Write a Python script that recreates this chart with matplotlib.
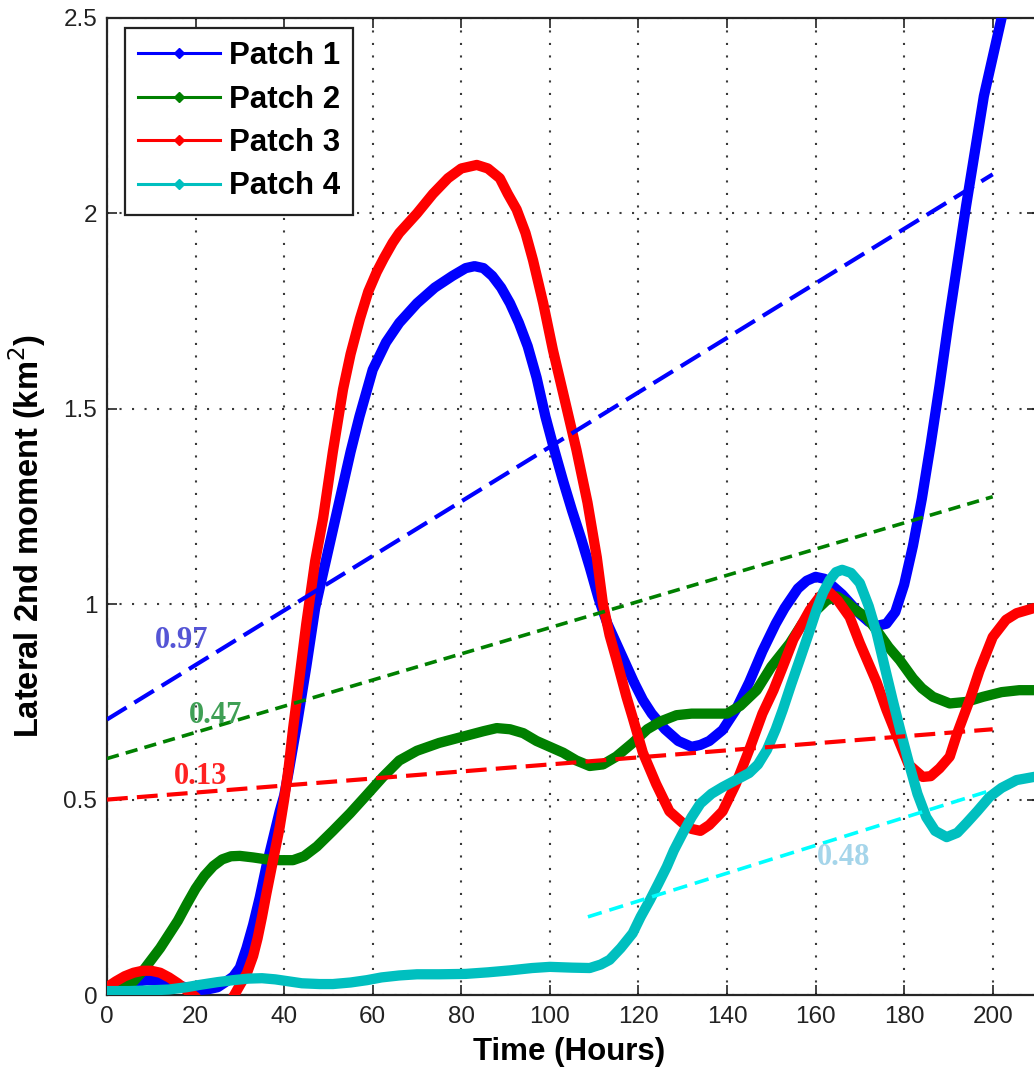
import matplotlib
matplotlib.use("Agg")
import matplotlib.pyplot as plt
from matplotlib.lines import Line2D

plt.rcParams['font.family'] = ['Liberation Sans', 'DejaVu Sans']

# ---- Patch 1 ----
p1_t = [0, 3, 6, 9, 11, 14, 17, 20, 23, 25, 27, 28.5, 30, 31.5, 33, 34.5, 36, 37.5, 39,
        40, 41, 43, 45, 47, 49, 51, 53, 55, 57, 60, 63, 66, 70, 74, 78, 81, 83, 85, 87,
        89, 91, 93, 95, 97, 99, 101, 103, 105, 107, 109, 111, 113, 115, 117, 119, 121,
        123, 126, 129, 132, 134, 136, 139, 142, 145, 148, 151, 153, 156, 158, 160, 162,
        164, 166, 168, 170, 172, 174, 176, 178, 180, 182, 184, 186, 188, 190, 192, 194,
        196, 198, 200, 202, 204]
p1_m = [0.02, 0.025, 0.033, 0.038, 0.037, 0.03, 0.022, 0.012, 0.015, 0.02, 0.035, 0.047,
        0.07, 0.12, 0.18, 0.25, 0.33, 0.40, 0.47, 0.51, 0.57, 0.70, 0.84, 0.99, 1.09,
        1.19, 1.29, 1.39, 1.48, 1.60, 1.67, 1.72, 1.77, 1.81, 1.84, 1.86, 1.865, 1.86,
        1.84, 1.81, 1.77, 1.72, 1.66, 1.58, 1.48, 1.395, 1.315, 1.24, 1.17, 1.095, 1.015,
        0.95, 0.90, 0.85, 0.80, 0.755, 0.72, 0.68, 0.65, 0.635, 0.64, 0.65, 0.678, 0.73,
        0.80, 0.88, 0.95, 0.99, 1.04, 1.06, 1.07, 1.065, 1.045, 1.025, 1.00, 0.975,
        0.955, 0.945, 0.95, 0.98, 1.05, 1.15, 1.27, 1.41, 1.56, 1.72, 1.87, 2.02, 2.16,
        2.30, 2.40, 2.50, 2.58]

# ---- Patch 2 ----
p2_t = [0, 3, 6, 8, 10, 12, 14, 16, 18, 20, 22, 24, 26, 28, 30, 33, 36, 39, 42, 44.5,
        47.4, 51, 54.9, 58.5, 62.3, 66, 70, 75, 80, 85, 88, 91, 94, 97, 100, 103, 106,
        109, 112, 115, 118.7, 122, 125, 128.6, 132, 136, 140, 143, 146.7, 150, 154.2,
        157, 160.2, 162.5, 164.8, 167, 169, 171.5, 174, 176.5, 179, 182, 184, 186.5,
        190.3, 194, 197.8, 202, 206, 209.3, 212]
p2_m = [0.005, 0.015, 0.035, 0.06, 0.09, 0.12, 0.155, 0.19, 0.232, 0.272, 0.305, 0.33,
        0.347, 0.355, 0.356, 0.352, 0.347, 0.345, 0.345, 0.355, 0.38, 0.42, 0.465, 0.51,
        0.558, 0.60, 0.625, 0.645, 0.66, 0.675, 0.683, 0.68, 0.67, 0.65, 0.635, 0.62,
        0.60, 0.586, 0.59, 0.61, 0.645, 0.68, 0.70, 0.716, 0.72, 0.72, 0.72, 0.74, 0.78,
        0.84, 0.90, 0.95, 0.985, 1.01, 1.02, 1.005, 0.985, 0.967, 0.93, 0.89, 0.857,
        0.81, 0.785, 0.763, 0.746, 0.75, 0.763, 0.775, 0.78, 0.78, 0.78]

# ---- Patch 3 ----
p3_t = [0, 2, 4, 6, 8, 10, 12, 14, 16, 18, 20, 22, 25, 27, 28.5, 30, 31.6, 33, 34, 35,
        36, 37.5, 39, 40, 41, 42, 43, 44, 45, 46, 47, 48.8, 51, 53.3, 55, 57.1, 59,
        60.9, 62.5, 64.5, 66, 70, 73.6, 77, 80, 83.5, 86, 88.7, 90.5, 92.5, 94.5, 96.2,
        98.5, 100.7, 103, 106, 108.5, 110.6, 112, 113.5, 115, 117.3, 118.7, 121, 124,
        127, 130, 132, 134, 136, 139, 142, 145, 148, 150.5, 152.6, 155, 158.7, 161,
        163.2, 165, 167.7, 170, 173.8, 176, 179, 181, 184.2, 186, 188, 190.3, 192,
        194.8, 197, 200, 203, 205.4, 209.3, 212]
p3_m = [0.02, 0.035, 0.048, 0.057, 0.062, 0.062, 0.057, 0.045, 0.03, 0.012, -0.005,
        -0.03, -0.045, -0.03, -0.005, 0.025, 0.056, 0.10, 0.145, 0.20, 0.26, 0.345,
        0.43, 0.50, 0.58, 0.68, 0.77, 0.86, 0.95, 1.03, 1.11, 1.22, 1.39, 1.55, 1.64,
        1.73, 1.80, 1.85, 1.885, 1.925, 1.95, 2.00, 2.05, 2.09, 2.115, 2.124, 2.115,
        2.09, 2.05, 2.01, 1.95, 1.88, 1.77, 1.65, 1.54, 1.395, 1.26, 1.12, 1.00, 0.92,
        0.86, 0.763, 0.71, 0.62, 0.54, 0.47, 0.44, 0.425, 0.42, 0.435, 0.47, 0.54, 0.627,
        0.72, 0.78, 0.84, 0.91, 0.985, 1.02, 1.03, 1.01, 0.967, 0.90, 0.80, 0.73,
        0.645, 0.59, 0.558, 0.56, 0.58, 0.61, 0.67, 0.755, 0.83, 0.916, 0.96, 0.977,
        0.99, 0.99]

# ---- Patch 4 ----
p4_t = [0, 5, 10, 14, 18, 21, 25, 28.5, 32, 35, 38, 41, 44, 48, 51, 55, 58.7, 62, 66,
        70, 75, 81, 86, 91, 96, 100, 105, 109, 111.5, 113.5, 116, 118.7, 120.5, 122.6,
        124.5, 126.4, 128, 130, 132, 134, 136.5, 139, 142, 145, 147, 149, 151, 152.6,
        154.5, 156.4, 158.3, 160.2, 161.7, 163.2, 164.6, 166, 168, 170, 172, 173.8,
        175.6, 177.4, 179.3, 181.3, 183, 185, 187, 189.6, 192, 194.1, 196.5, 199.3,
        202, 205.4, 209.3, 212]
p4_m = [0.01, 0.01, 0.012, 0.014, 0.02, 0.026, 0.033, 0.038, 0.042, 0.043, 0.04, 0.035,
        0.03, 0.028, 0.028, 0.032, 0.038, 0.045, 0.05, 0.053, 0.053, 0.054, 0.058,
        0.063, 0.069, 0.072, 0.07, 0.069, 0.078, 0.09, 0.12, 0.158, 0.20, 0.243, 0.285,
        0.328, 0.37, 0.414, 0.455, 0.49, 0.515, 0.532, 0.55, 0.568, 0.59, 0.627, 0.68,
        0.73, 0.795, 0.857, 0.92, 0.985, 1.03, 1.062, 1.082, 1.088, 1.08, 1.054, 0.995,
        0.926, 0.84, 0.755, 0.67, 0.584, 0.515, 0.455, 0.42, 0.404, 0.415, 0.44, 0.47,
        0.507, 0.53, 0.55, 0.558, 0.56]

series_names = ["Patch 1", "Patch 2", "Patch 3", "Patch 4"]
series_t = [p1_t, p2_t, p3_t, p4_t]
series_m = [p1_m, p2_m, p3_m, p4_m]
series_colors = ["#0000ff", "#008000", "#ff0000", "#00bfbf"]

# Linear trend lines and their slope annotations
fit_t0 = [0, 0, 0, 108.6]
fit_t1 = [200, 200, 200, 200]
fit_m0 = [0.705, 0.605, 0.50, 0.20]
fit_m1 = [2.10, 1.275, 0.68, 0.525]
fit_colors = ["#0000ff", "#008000", "#ff0000", "#00ffff"]
fit_dashes = [(5.5, 2.2), (3.4, 2.0), (5.0, 2.2), (4.0, 2.2)]
fit_widths = [3.0, 2.6, 3.0, 2.6]

slope_labels = ["0.97", "0.47", "0.13", "0.48"]
slope_label_t = [16.9, 24.6, 21.2, 166.4]
slope_label_m = [0.906, 0.714, 0.560, 0.353]
slope_label_colors = ["#5555d5", "#3f9f55", "#ff2222", "#a5d5ea"]

x_ticks = list(range(0, 201, 20))
y_ticks = [0, 0.5, 1, 1.5, 2, 2.5]
y_tick_labels = ["0", "0.5", "1", "1.5", "2", "2.5"]

fig = plt.figure(figsize=(10.34, 10.76), dpi=100)
ax = fig.add_axes([107 / 1034, 81 / 1076, 930 / 1034, 977 / 1076])

for t, m, c in zip(series_t, series_m, series_colors):
    ax.plot(t, m, color=c, lw=7.4, solid_capstyle="round", solid_joinstyle="round",
            zorder=3)

for t0, t1, m0, m1, c, d, w in zip(fit_t0, fit_t1, fit_m0, fit_m1, fit_colors,
                                   fit_dashes, fit_widths):
    ax.plot([t0, t1], [m0, m1], color=c, lw=w, dashes=d, zorder=4)

for s, t, m, c in zip(slope_labels, slope_label_t, slope_label_m, slope_label_colors):
    ax.text(t, m, s, color=c, fontsize=22, fontweight="bold",
            family=["Liberation Serif", "DejaVu Serif"], ha="center", va="center",
            zorder=5)

ax.set_xlim(0, 210)
ax.set_ylim(0, 2.5)
ax.set_xticks(x_ticks)
ax.set_xticklabels([str(v) for v in x_ticks])
ax.set_yticks(y_ticks)
ax.set_yticklabels(y_tick_labels)

ax.grid(True, color="#3a3a3a", linestyle=(0, (1, 5)), linewidth=1.5)
ax.set_axisbelow(True)
ax.tick_params(direction="in", length=7, width=1.2, top=True, right=True,
               labelsize=17.5, colors="#222222", pad=7)
ax.tick_params(axis="x", pad=8)
for sp in ax.spines.values():
    sp.set_linewidth(1.6)
    sp.set_color("#262626")

ax.set_xlabel("Time (Hours)", fontsize=22.5, fontweight="bold")
ax.set_ylabel("Lateral 2nd moment (km$^2$)", fontsize=23.5, fontweight="bold")
ax.xaxis.set_label_coords(0.497, -0.043)
ax.yaxis.set_label_coords(-0.063, 0.47)

handles = [Line2D([], [], color=c, lw=2.2, marker="D", markersize=5) for c in series_colors]
leg = ax.legend(handles, series_names, loc="upper left",
                bbox_to_anchor=(18 / 930, 1 - 10 / 977), borderaxespad=0,
                prop={"size": 22.5, "weight": "bold"}, numpoints=1,
                handlelength=2.62, handletextpad=0.28, labelspacing=0.43,
                borderpad=0.42, fancybox=False, framealpha=1, edgecolor="#222222")
leg.get_frame().set_linewidth(1.6)

fig.savefig("out.png", dpi=100)
